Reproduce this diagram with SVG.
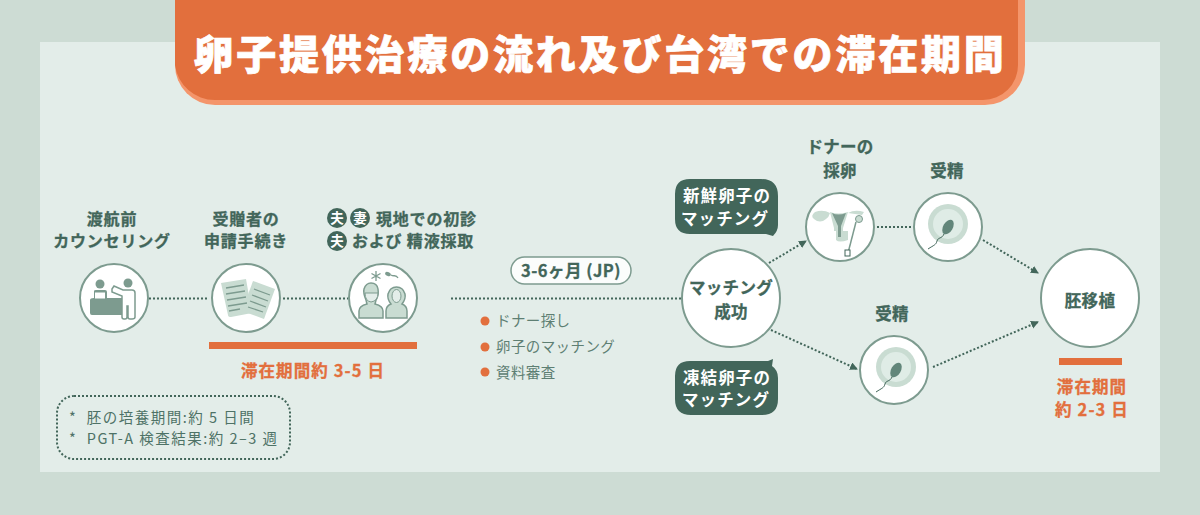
<svg xmlns="http://www.w3.org/2000/svg" width="1200" height="515" viewBox="0 0 1200 515">
<style>
text{font-family:"Noto Sans CJK JP","Noto Sans",sans-serif;fill:#42665a;text-anchor:middle}
.b{font-weight:700;font-size:16.500px;letter-spacing:.3px;stroke:#42665a;stroke-width:.3px}
.h{font-size:16px;letter-spacing:.8px}
.r{font-size:14.500px;letter-spacing:.4px;text-anchor:start;fill:#5e7f73}
.n{font-size:14.500px;letter-spacing:1.500px;text-anchor:start;fill:#4e7266}
.o{font-weight:700;font-size:16.500px;letter-spacing:1.100px;fill:#e26f3d;stroke:#e26f3d;stroke-width:.3px}
.w{font-weight:700;font-size:16.500px;letter-spacing:1.100px;fill:#fff}
.c{fill:#fff;stroke:#7d9b8f;stroke-width:2}
.l{fill:none;stroke:#42665a;stroke-width:2;stroke-dasharray:2 2}
.m{fill:#c9dcd2;stroke:#7d9b8f;stroke-width:1.500}
.d{fill:#7d9b8f}
.t{fill:none;stroke:#7d9b8f;stroke-width:1.300}
.dg{fill:#42665a}
.k{font-weight:700;font-size:13.500px;fill:#fff}
</style>
<defs>
<marker id="a" markerWidth="9" markerHeight="9" refX="7" refY="4" orient="auto" markerUnits="userSpaceOnUse"><path d="M0 0L8 4L0 8Z" fill="#42665a"/></marker>
<g id="egg"><circle r="20" fill="#c9dcd2"/><circle r="15" fill="#dfece6"/><ellipse rx="4.800" ry="8" transform="translate(0 3) rotate(30)" fill="#62867a"/><path d="M-4 10C-6 15 -10 13 -11 17S-14 21 -20 25" fill="none" stroke="#42665a" stroke-width="1"/></g>
</defs>
<rect width="1200" height="515" fill="#cddcd4"/>
<rect x="40" y="42" width="1120" height="430" fill="#e3ede9"/>
<g id="title">
<path d="M175 0H1025V65a40 40 0 0 1-40 40H215a40 40 0 0 1-40-40Z" fill="#f4956b"/>
<path d="M175 0H1018V65a35 35 0 0 1-35 35H215a40 40 0 0 1-40-35Z" fill="#e26f3d"/>
<text x="600" y="69" style="font-weight:900;font-size:40px;letter-spacing:2.800px;fill:#fff;stroke:#fff;stroke-width:.7px">卵子提供治療の流れ及び台湾での滞在期間</text>
</g>
<g id="connectors">
<path class="l" d="M149 298.500H208"/>
<path class="l" d="M283 298.500H348"/>
<path class="l" d="M451 298.500H684"/>
<path class="l" d="M769 263L806 241" marker-end="url(#a)"/>
<path class="l" d="M877 227H912"/>
<path class="l" d="M983 240L1038 273" marker-end="url(#a)"/>
<path class="l" d="M771 330L857 369" marker-end="url(#a)"/>
<path class="l" d="M933 367L1038 322" marker-end="url(#a)"/>
</g>
<g id="n1">
<text class="b h" x="112" y="225">渡航前</text><text class="b h" x="112" y="247">カウンセリング</text>
<circle class="c" cx="114" cy="298" r="34"/>
<circle class="d" cx="100" cy="284" r="4.500"/><circle class="d" cx="128" cy="283" r="4.500"/>
<path class="d" d="M94 291Q94 290 96 290H105Q107 290 107 292V298H122V315H92Q90 315 90 313V300Q90 298 94 298Z"/><rect x="94.500" y="292" width="11" height="7" fill="#fff" stroke="#7d9b8f"/>
<path d="M112 289L114 286L123 290H132Q135 290 135 293V317Q135 319 132 319H130Q128 319 128 317V306H127V317Q127 319 125 319H124Q122 319 122 317V296L112 292Z" fill="#fff" stroke="#7d9b8f" stroke-width="1.500"/>
</g>
<g id="n2">
<text class="b h" x="246" y="225">受贈者の</text><text class="b h" x="246" y="247">申請手続き</text>
<circle class="c" cx="246" cy="298" r="34"/>
<path fill="#c9dcd2" d="M221 283L246 279L252 313L231 317Q228 317 228 315Z"/>
<path fill="#c9dcd2" d="M253 281L275 289L264 319L242 311Z"/>
<path class="t" d="M226 288L244 285M226 294L245 291M227 300L246 297M228 306L247 303M229 311L240 309M254 289L270 295M252 295L268 301M250 301L266 307M248 307L263 312"/>
</g>
<g id="n3">
<circle class="dg" cx="337" cy="218" r="10"/><circle class="dg" cx="360" cy="218" r="10"/><circle class="dg" cx="337" cy="241" r="10"/>
<text class="k" x="337" y="223">夫</text>
<text class="k" x="360" y="223">妻</text>
<text class="k" x="337" y="246">夫</text>
<text class="b h" x="376" y="225" style="text-anchor:start;letter-spacing:.8px">現地での初診</text>
<text class="b h" x="352" y="247" style="text-anchor:start;letter-spacing:.8px">および 精液採取</text>
<circle class="c" cx="383" cy="298" r="34"/>
<path class="t" d="M376 271V281M371.500 273.500L380.500 278.500M371.500 278.500L380.500 273.500"/>
<ellipse cx="388" cy="274" rx="3" ry="2" class="d" transform="rotate(25 388 274)"/><path class="t" d="M391 275C394 277 396 274 398 278" stroke-width="1"/>
<path class="m" d="M359 318V311Q359 306 367 304L366 300Q363 293 364 289Q366 283 371 283Q377 283 378 289Q379 295 376 300L375 304Q383 306 383 311V318Z"/>
<path d="M365 293H378Q378 301 371 302Q365 301 365 293Z" fill="#e3ede9" stroke="#7d9b8f"/>
<path class="m" d="M386 318V311Q386 306 391 304Q387 299 388 294Q390 287 396.500 287Q403 287 405 294Q406 299 402 304Q407 306 407 311V318Z"/>
<ellipse cx="396.500" cy="296" rx="4.500" ry="6.500" fill="#e3ede9" stroke="#7d9b8f"/>
</g>
<g id="stay1">
<rect x="209" y="342" width="208" height="7" fill="#e26f3d"/>
<text class="o" x="313" y="377">滞在期間約 3-5 日</text>
</g>
<g id="note">
<rect x="57" y="396" width="233" height="63" rx="17" fill="none" stroke="#42665a" stroke-width="2" stroke-dasharray="2 2"/>
<text class="n" x="69" y="423" xml:space="preserve">*  胚の培養期間:約 5 日間</text>
<text class="n" x="69" y="444" xml:space="preserve">*  PGT-A 検査結果:約 2–3 週</text>
</g>
<g id="period">
<rect x="511" y="257" width="120" height="27" rx="13.500" fill="#fff" fill-opacity=".85" stroke="#7d9b8f" stroke-width="1.500"/>
<text x="571" y="277" style="font-weight:700;font-size:16.500px;letter-spacing:.5px;stroke:#42665a;stroke-width:.3px">3-6ヶ月 (JP)</text>
</g>
<g id="list">
<circle cx="485" cy="321" r="4.500" fill="#e26f3d"/><circle cx="485" cy="347" r="4.500" fill="#e26f3d"/><circle cx="485" cy="372" r="4.500" fill="#e26f3d"/>
<text class="r" x="496" y="326">ドナー探し</text><text class="r" x="496" y="352">卵子のマッチング</text><text class="r" x="496" y="378">資料審査</text>
</g>
<g id="match">
<circle class="c" cx="731" cy="298" r="49"/>
<text class="b" x="731" y="294">マッチング</text><text class="b" x="731" y="318">成功</text>
</g>
<g id="bubble1">
<path class="dg" d="M690 179H761Q778 179 778 196V225Q778 231 773 236L766 234H690Q675 234 675 219V194Q675 179 690 179Z"/>
<text class="w" x="727" y="202">新鮮卵子の</text><text class="w" x="725" y="225">マッチング</text>
</g>
<g id="bubble2">
<path class="dg" d="M690 361H768L773 359L772 366Q778 370 778 378V399Q778 415 762 415H691Q675 415 675 399V376Q675 361 690 361Z"/>
<text class="w" x="727" y="384">凍結卵子の</text><text class="w" x="726" y="406">マッチング</text>
</g>
<g id="donor">
<text class="b" x="840" y="153">ドナーの</text><text class="b" x="840" y="177">採卵</text>
<circle class="c" cx="840" cy="227" r="34"/>
<path d="M830 212Q838 215 848 212L843 228V231H848V240Q839 243 836 240V231H834V228Z" fill="#c9dcd2"/>
<path d="M832 213Q838 216 846 213L841 226V237H838V226Z" fill="#7d9b8f"/>
<path d="M830 213Q823 209 815 212Q810 216 814 219Q820 224 826 219Q829 217 830 213ZM848 213Q855 209 864 212L862 215L855 214Z" fill="#c9dcd2"/>
<path d="M856 222L848 253" fill="none" stroke="#7d9b8f" stroke-width="1.500"/>
<circle cx="859" cy="219" r="3.500" fill="#c9dcd2" stroke="#7d9b8f"/>
<rect x="845" y="250" width="5" height="6" fill="#fff" stroke="#42665a"/>
</g>
<g id="fert1">
<text class="b" x="947" y="177">受精</text>
<circle class="c" cx="948" cy="227" r="34"/>
<use href="#egg" x="948" y="224"/>
</g>
<g id="fert2">
<text class="b" x="892" y="320">受精</text>
<circle class="c" cx="894" cy="370" r="34"/>
<use href="#egg" x="896" y="367"/>
</g>
<g id="transfer">
<circle class="c" cx="1090" cy="298" r="49"/>
<text class="b" x="1090" y="307">胚移植</text>
</g>
<g id="stay2">
<rect x="1059" y="358" width="63" height="7" fill="#e26f3d"/>
<text class="o" x="1092" y="393">滞在期間</text><text class="o" x="1092" y="416">約 2-3 日</text>
</g>
</svg>
